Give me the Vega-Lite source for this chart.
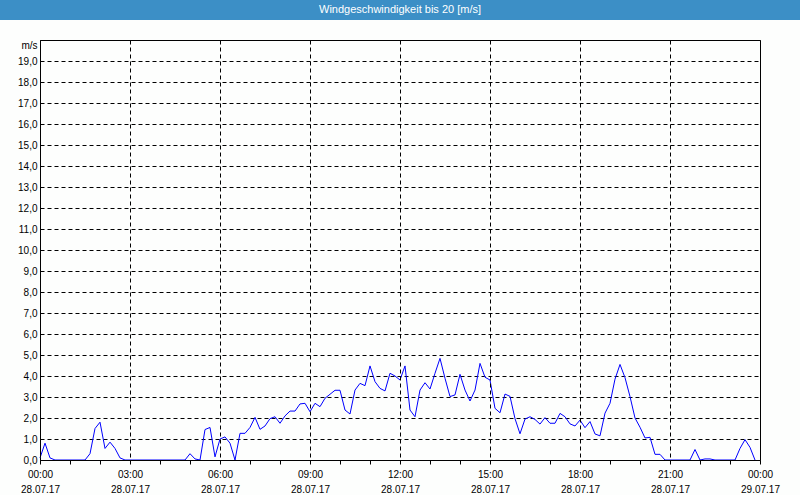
{
  "$schema": "https://vega.github.io/schema/vega-lite/v6.json",
  "padding": 0,
  "background": "#fdfefd",
  "spacing": 20,
  "bounds": "flush",
  "center": true,
  "config": {"view": {"stroke": "black", "strokeWidth": 1}},
  "datasets": {
    "wind": [
      {"t":"2017-07-28T00:00","v":0.1},{"t":"2017-07-28T00:10","v":0.8},{"t":"2017-07-28T00:20","v":0.1},{"t":"2017-07-28T00:30","v":0},{"t":"2017-07-28T00:40","v":0},{"t":"2017-07-28T00:50","v":0},
      {"t":"2017-07-28T01:00","v":0},{"t":"2017-07-28T01:10","v":0},{"t":"2017-07-28T01:20","v":0},{"t":"2017-07-28T01:30","v":0},{"t":"2017-07-28T01:40","v":0.3},{"t":"2017-07-28T01:50","v":1.5},
      {"t":"2017-07-28T02:00","v":1.8},{"t":"2017-07-28T02:10","v":0.55},{"t":"2017-07-28T02:20","v":0.85},{"t":"2017-07-28T02:30","v":0.55},{"t":"2017-07-28T02:40","v":0.1},{"t":"2017-07-28T02:50","v":0},
      {"t":"2017-07-28T03:00","v":0},{"t":"2017-07-28T03:10","v":0},{"t":"2017-07-28T03:20","v":0},{"t":"2017-07-28T03:30","v":0},{"t":"2017-07-28T03:40","v":0},{"t":"2017-07-28T03:50","v":0},
      {"t":"2017-07-28T04:00","v":0},{"t":"2017-07-28T04:10","v":0},{"t":"2017-07-28T04:20","v":0},{"t":"2017-07-28T04:30","v":0},{"t":"2017-07-28T04:40","v":0},{"t":"2017-07-28T04:50","v":0},
      {"t":"2017-07-28T05:00","v":0.3},{"t":"2017-07-28T05:10","v":0.05},{"t":"2017-07-28T05:20","v":0},{"t":"2017-07-28T05:30","v":1.45},{"t":"2017-07-28T05:40","v":1.55},{"t":"2017-07-28T05:50","v":0.15},
      {"t":"2017-07-28T06:00","v":1.0},{"t":"2017-07-28T06:10","v":1.1},{"t":"2017-07-28T06:20","v":0.8},{"t":"2017-07-28T06:30","v":0},{"t":"2017-07-28T06:40","v":1.27},{"t":"2017-07-28T06:50","v":1.27},
      {"t":"2017-07-28T07:00","v":1.55},{"t":"2017-07-28T07:10","v":2.03},{"t":"2017-07-28T07:20","v":1.46},{"t":"2017-07-28T07:30","v":1.62},{"t":"2017-07-28T07:40","v":1.97},{"t":"2017-07-28T07:50","v":2.06},
      {"t":"2017-07-28T08:00","v":1.75},{"t":"2017-07-28T08:10","v":2.1},{"t":"2017-07-28T08:20","v":2.33},{"t":"2017-07-28T08:30","v":2.33},{"t":"2017-07-28T08:40","v":2.67},{"t":"2017-07-28T08:50","v":2.7},
      {"t":"2017-07-28T09:00","v":2.3},{"t":"2017-07-28T09:10","v":2.7},{"t":"2017-07-28T09:20","v":2.54},{"t":"2017-07-28T09:30","v":2.94},{"t":"2017-07-28T09:40","v":3.13},{"t":"2017-07-28T09:50","v":3.32},
      {"t":"2017-07-28T10:00","v":3.32},{"t":"2017-07-28T10:10","v":2.38},{"t":"2017-07-28T10:20","v":2.19},{"t":"2017-07-28T10:30","v":3.33},{"t":"2017-07-28T10:40","v":3.65},{"t":"2017-07-28T10:50","v":3.54},
      {"t":"2017-07-28T11:00","v":4.48},{"t":"2017-07-28T11:10","v":3.73},{"t":"2017-07-28T11:20","v":3.41},{"t":"2017-07-28T11:30","v":3.29},{"t":"2017-07-28T11:40","v":4.13},{"t":"2017-07-28T11:50","v":4.0},
      {"t":"2017-07-28T12:00","v":3.81},{"t":"2017-07-28T12:10","v":4.48},{"t":"2017-07-28T12:20","v":2.38},{"t":"2017-07-28T12:30","v":2.06},{"t":"2017-07-28T12:40","v":3.33},{"t":"2017-07-28T12:50","v":3.68},
      {"t":"2017-07-28T13:00","v":3.38},{"t":"2017-07-28T13:10","v":4.13},{"t":"2017-07-28T13:20","v":4.84},{"t":"2017-07-28T13:30","v":3.89},{"t":"2017-07-28T13:40","v":3.02},{"t":"2017-07-28T13:50","v":3.1},
      {"t":"2017-07-28T14:00","v":4.08},{"t":"2017-07-28T14:10","v":3.33},{"t":"2017-07-28T14:20","v":2.81},{"t":"2017-07-28T14:30","v":3.33},{"t":"2017-07-28T14:40","v":4.6},{"t":"2017-07-28T14:50","v":3.94},
      {"t":"2017-07-28T15:00","v":3.81},{"t":"2017-07-28T15:10","v":2.46},{"t":"2017-07-28T15:20","v":2.25},{"t":"2017-07-28T15:30","v":3.14},{"t":"2017-07-28T15:40","v":3.03},{"t":"2017-07-28T15:50","v":1.97},
      {"t":"2017-07-28T16:00","v":1.25},{"t":"2017-07-28T16:10","v":1.95},{"t":"2017-07-28T16:20","v":2.06},{"t":"2017-07-28T16:30","v":1.93},{"t":"2017-07-28T16:40","v":1.71},{"t":"2017-07-28T16:50","v":2.02},
      {"t":"2017-07-28T17:00","v":1.75},{"t":"2017-07-28T17:10","v":1.75},{"t":"2017-07-28T17:20","v":2.22},{"t":"2017-07-28T17:30","v":2.06},{"t":"2017-07-28T17:40","v":1.72},{"t":"2017-07-28T17:50","v":1.62},
      {"t":"2017-07-28T18:00","v":1.9},{"t":"2017-07-28T18:10","v":1.54},{"t":"2017-07-28T18:20","v":1.83},{"t":"2017-07-28T18:30","v":1.24},{"t":"2017-07-28T18:40","v":1.15},{"t":"2017-07-28T18:50","v":2.23},
      {"t":"2017-07-28T19:00","v":2.7},{"t":"2017-07-28T19:10","v":3.85},{"t":"2017-07-28T19:20","v":4.55},{"t":"2017-07-28T19:30","v":3.92},{"t":"2017-07-28T19:40","v":3.02},{"t":"2017-07-28T19:50","v":2.0},
      {"t":"2017-07-28T20:00","v":1.56},{"t":"2017-07-28T20:10","v":1.05},{"t":"2017-07-28T20:20","v":1.08},{"t":"2017-07-28T20:30","v":0.27},{"t":"2017-07-28T20:40","v":0.27},{"t":"2017-07-28T20:50","v":0},
      {"t":"2017-07-28T21:00","v":0},{"t":"2017-07-28T21:10","v":0},{"t":"2017-07-28T21:20","v":0},{"t":"2017-07-28T21:30","v":0},{"t":"2017-07-28T21:40","v":0},{"t":"2017-07-28T21:50","v":0.5},
      {"t":"2017-07-28T22:00","v":0},{"t":"2017-07-28T22:10","v":0.05},{"t":"2017-07-28T22:20","v":0.05},{"t":"2017-07-28T22:30","v":0},{"t":"2017-07-28T22:40","v":0},{"t":"2017-07-28T22:50","v":0},
      {"t":"2017-07-28T23:00","v":0},{"t":"2017-07-28T23:10","v":0},{"t":"2017-07-28T23:20","v":0.55},{"t":"2017-07-28T23:30","v":0.97},{"t":"2017-07-28T23:40","v":0.6},{"t":"2017-07-28T23:50","v":0}
    ],
    "head": [{"title": "Windgeschwindigkeit bis 20 [m/s]"}]
  },
  "vconcat": [
    {
      "width": 800,
      "height": 20,
      "view": {"fill": "#3c8fc6", "stroke": null},
      "data": {"name": "head"},
      "mark": {"type": "text", "color": "white", "font": "Liberation Sans", "fontSize": 11, "align": "center", "baseline": "middle"},
      "encoding": {"text": {"field": "title", "type": "nominal"}}
    },
    {
      "width": 720,
      "height": 420,
      "data": {"name": "wind"},
      "mark": {"type": "line", "color": "#0000ff", "strokeWidth": 1},
      "encoding": {
        "x": {
          "field": "t",
          "type": "temporal",
          "scale": {"domain": [{"year": 2017, "month": 7, "date": 28, "hours": 0}, {"year": 2017, "month": 7, "date": 29, "hours": 0}], "nice": false},
          "axis": {
            "title": null,
            "zindex": 1,
            "values": [
              {"year": 2017, "month": 7, "date": 28, "hours": 0}, {"year": 2017, "month": 7, "date": 28, "hours": 1}, {"year": 2017, "month": 7, "date": 28, "hours": 2},
              {"year": 2017, "month": 7, "date": 28, "hours": 3}, {"year": 2017, "month": 7, "date": 28, "hours": 4}, {"year": 2017, "month": 7, "date": 28, "hours": 5},
              {"year": 2017, "month": 7, "date": 28, "hours": 6}, {"year": 2017, "month": 7, "date": 28, "hours": 7}, {"year": 2017, "month": 7, "date": 28, "hours": 8},
              {"year": 2017, "month": 7, "date": 28, "hours": 9}, {"year": 2017, "month": 7, "date": 28, "hours": 10}, {"year": 2017, "month": 7, "date": 28, "hours": 11},
              {"year": 2017, "month": 7, "date": 28, "hours": 12}, {"year": 2017, "month": 7, "date": 28, "hours": 13}, {"year": 2017, "month": 7, "date": 28, "hours": 14},
              {"year": 2017, "month": 7, "date": 28, "hours": 15}, {"year": 2017, "month": 7, "date": 28, "hours": 16}, {"year": 2017, "month": 7, "date": 28, "hours": 17},
              {"year": 2017, "month": 7, "date": 28, "hours": 18}, {"year": 2017, "month": 7, "date": 28, "hours": 19}, {"year": 2017, "month": 7, "date": 28, "hours": 20},
              {"year": 2017, "month": 7, "date": 28, "hours": 21}, {"year": 2017, "month": 7, "date": 28, "hours": 22}, {"year": 2017, "month": 7, "date": 28, "hours": 23},
              {"year": 2017, "month": 7, "date": 29, "hours": 0}
            ],
            "labelExpr": "hours(datum.value) % 3 == 0 ? [timeFormat(datum.value, '%H:%M'), timeFormat(datum.value, '%d.%m.%y')] : ''",
            "labelFlush": false,
            "labelOverlap": false,
            "labelBound": false,
            "labelFont": "Liberation Sans",
            "labelFontSize": 10,
            "labelColor": "black",
            "labelLineHeight": 15,
            "labelPadding": 5,
            "tickSize": 4,
            "tickColor": "black",
            "domainColor": "black",
            "grid": true,
            "gridColor": "black",
            "gridDash": [4, 3],
            "gridOpacity": {"condition": {"test": "hours(datum.value) % 3 == 0", "value": 1}, "value": 0}
          }
        },
        "y": {
          "field": "v",
          "type": "quantitative",
          "scale": {"domain": [0, 20], "nice": false},
          "axis": {
            "title": null,
            "values": [0,1,2,3,4,5,6,7,8,9,10,11,12,13,14,15,16,17,18,19,20],
            "labelExpr": "datum.value == 20 ? 'm/s' : replace(format(datum.value, '.1f'), '.', ',')",
            "labelFont": "Liberation Sans",
            "labelFontSize": 10,
            "labelColor": "black",
            "labelPadding": 3,
            "labelOffset": {"condition": {"test": "datum.value == 20", "value": 5}, "value": 0},
            "ticks": false,
            "domain": false,
            "grid": true,
            "gridColor": "black",
            "gridDash": [4, 3]
          }
        }
      }
    }
  ]
}
